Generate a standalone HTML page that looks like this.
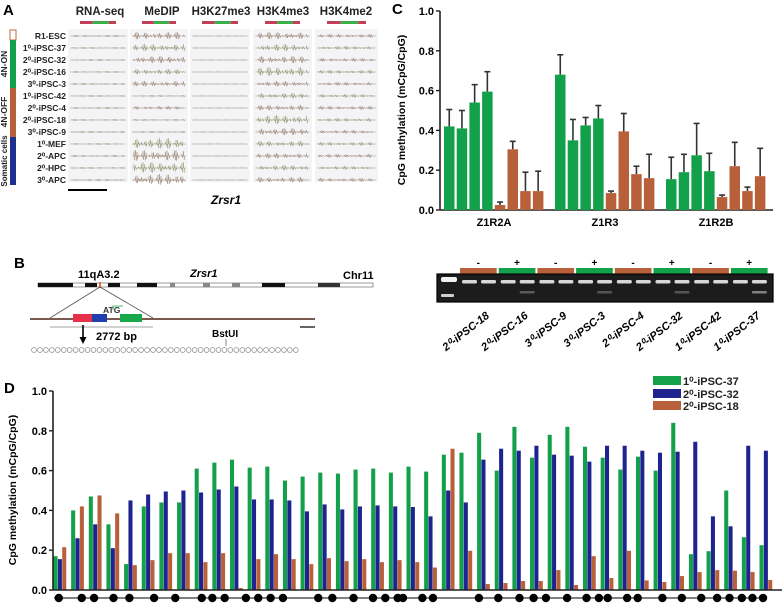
<!DOCTYPE html>
<html><head><meta charset="utf-8"><style>
html,body{margin:0;padding:0;background:#fff;}
svg{display:block;font-family:"Liberation Sans",Arial,sans-serif;}
</style></head><body>
<svg id="fig" width="784" height="604" viewBox="0 0 784 604" xmlns="http://www.w3.org/2000/svg">
<!-- Panel A -->
<g id="panelA">
<text x="3" y="15" font-size="15" font-weight="bold">A</text>
<g font-size="11.5" font-weight="bold" text-anchor="middle" fill="#222">
<text x="100" y="15">RNA-seq</text>
<text x="162" y="15">MeDIP</text>
<text x="221" y="15">H3K27me3</text>
<text x="283" y="15">H3K4me3</text>
<text x="346" y="15">H3K4me2</text>
</g>
<g id="trackArea"></g>
<rect x="10" y="30" width="6" height="10" fill="#fff" stroke="#c8643c" stroke-width="1"/>
<rect x="10" y="40" width="6" height="48" fill="#12a04a"/>
<rect x="10" y="88" width="6" height="49" fill="#b8603a"/>
<rect x="10" y="137" width="6" height="48" fill="#1f2f8e"/>
<g font-size="8.5" font-weight="bold" fill="#222" text-anchor="middle">
<text transform="translate(7,64) rotate(-90)">4N-ON</text>
<text transform="translate(7,112) rotate(-90)">4N-OFF</text>
<text transform="translate(7,161) rotate(-90)" font-size="8">Somatic cells</text>
</g>
<line x1="68" y1="190" x2="107" y2="190" stroke="#000" stroke-width="2"/>
<text x="226" y="204" font-size="12" font-weight="bold" font-style="italic" text-anchor="middle">Zrsr1</text>
</g>

<!-- Panel B -->
<g id="panelB">
<text x="14" y="268" font-size="15" font-weight="bold">B</text>
<text x="78" y="278" font-size="11" font-weight="bold">11qA3.2</text>
<text x="190" y="277" font-size="11" font-weight="bold" font-style="italic">Zrsr1</text>
<text x="343" y="279" font-size="11" font-weight="bold">Chr11</text>
<g>
<rect x="38" y="283" width="335" height="4" fill="#fff" stroke="#555" stroke-width="0.6"/>
<rect x="38" y="283" width="35" height="4" fill="#111"/>
<rect x="85" y="283" width="12" height="4" fill="#111"/>
<rect x="108" y="283" width="12" height="4" fill="#111"/>
<rect x="137" y="283" width="20" height="4" fill="#111"/>
<rect x="170" y="283" width="5" height="4" fill="#888"/>
<rect x="203" y="283" width="7" height="4" fill="#888"/>
<rect x="232" y="283" width="8" height="4" fill="#888"/>
<rect x="262" y="283" width="23" height="4" fill="#111"/>
<rect x="318" y="283" width="22" height="4" fill="#333"/>
<rect x="99" y="282" width="2" height="6" fill="#e07030"/>
</g>
<line x1="100" y1="287" x2="50" y2="318" stroke="#555" stroke-width="0.8"/>
<line x1="100" y1="287" x2="153" y2="318" stroke="#555" stroke-width="0.8"/>
<line x1="30" y1="319" x2="315" y2="319" stroke="#7a5a50" stroke-width="2"/>
<rect x="73" y="314" width="19" height="8" fill="#e8304a"/>
<rect x="92" y="314" width="15" height="8" fill="#1f3fb0"/>
<rect x="120" y="314" width="22" height="8" fill="#16a84a"/>
<text x="103" y="313" font-size="8.5" font-weight="bold" fill="#333">ATG</text>
<path d="M113 310 V306 H123" stroke="#16a84a" fill="none" stroke-width="0.8"/>
<line x1="50" y1="327" x2="153" y2="327" stroke="#888" stroke-width="0.8"/>
<line x1="83" y1="325" x2="83" y2="340" stroke="#000" stroke-width="1.6"/>
<path d="M79.5 337 L83 344 L86.5 337 Z" fill="#000"/>
<text x="96" y="340" font-size="11" font-weight="bold">2772 bp</text>
<text x="212" y="337" font-size="10" font-weight="bold">BstUI</text>
<line x1="226" y1="339" x2="226" y2="346" stroke="#333" stroke-width="0.6"/>
<line x1="300" y1="327" x2="315" y2="327" stroke="#333" stroke-width="1.5"/>
<g id="cpgRow"></g>
</g>

<!-- Panel C -->
<g id="panelC">
<text x="392" y="14" font-size="15" font-weight="bold">C</text>
<text transform="translate(405,110) rotate(-90)" font-size="10.5" font-weight="bold" text-anchor="middle">CpG methylation (mCpG/CpG)</text>
<g id="cChart"></g>
</g>

<!-- Gel -->
<g id="gel"></g>

<!-- Panel D -->
<g id="panelD">
<text x="4" y="393" font-size="15" font-weight="bold">D</text>
<text transform="translate(16,490) rotate(-90)" font-size="10.5" font-weight="bold" text-anchor="middle">CpG methylation (mCpG/CpG)</text>
<g id="dChart"></g>
<g font-size="11" font-weight="bold" fill="#222">
<rect x="653" y="376" width="28" height="9" fill="#12a04a"/>
<text x="683" y="385">1⁰-iPSC-37</text>
<rect x="653" y="389" width="28" height="9" fill="#1f2390"/>
<text x="683" y="398">2⁰-iPSC-32</text>
<rect x="653" y="401" width="28" height="9" fill="#b8603a"/>
<text x="683" y="410">2⁰-iPSC-18</text>
</g>
</g>
</svg>
<script>
// ---------- Panel C data ----------
const cGroups = ["Z1R2A","Z1R3","Z1R2B"];
const cTicks = [0,0.2,0.4,0.6,0.8,1.0];
const cTickLabels = ["0.0","0.2","0.4","0.6","0.8","1.0"];
const cGreen = [[0.42,0.41,0.54,0.595],[0.68,0.35,0.425,0.46],[0.155,0.19,0.275,0.195]];
const cGreenErr = [[0.085,0.09,0.09,0.1],[0.1,0.105,0.04,0.065],[0.11,0.09,0.16,0.09]];
const cOrange = [[0.025,0.305,0.095,0.095],[0.085,0.395,0.18,0.16],[0.065,0.22,0.095,0.17]];
const cOrangeErr = [[0.015,0.04,0.095,0.1],[0.01,0.09,0.04,0.12],[0.01,0.12,0.02,0.14]];

// ---------- Panel D data ----------
const dTicks = [0,0.2,0.4,0.6,0.8,1.0];
const dTickLabels = ["0.0","0.2","0.4","0.6","0.8","1.0"];
const dGreen = [0.17,0.40,0.47,0.33,0.13,0.42,0.44,0.44,0.61,0.64,0.655,0.615,0.62,0.55,0.57,0.59,0.585,0.605,0.61,0.59,0.62,0.595,0.68,0.69,0.79,0.60,0.82,0.665,0.78,0.82,0.72,0.665,0.605,0.67,0.60,0.84,0.18,0.195,0.50,0.265,0.225];
const dBlue = [0.155,0.26,0.33,0.21,0.45,0.48,0.495,0.50,0.49,0.505,0.52,0.455,0.455,0.45,0.395,0.43,0.405,0.42,0.425,0.42,0.417,0.37,0.50,0.44,0.655,0.71,0.70,0.725,0.68,0.675,0.645,0.725,0.725,0.70,0.69,0.695,0.745,0.37,0.32,0.725,0.70];
const dOrange = [0.215,0.42,0.475,0.385,0.125,0.15,0.185,0.185,0.14,0.185,0.01,0.155,0.18,0.155,0.13,0.16,0.145,0.155,0.14,0.15,0.14,0.113,0.71,0.197,0.03,0.035,0.045,0.045,0.10,0.025,0.17,0.06,0.197,0.048,0.04,0.07,0.09,0.10,0.097,0.09,0.05];
const dDotSites = [0.3,1.6,2.3,3.4,4.3,5.7,6.9,8.4,9.0,9.7,10.9,11.6,12.3,13.0,15.0,15.8,17.0,18.1,18.8,19.5,19.8,20.9,21.5,24.1,25.2,26.4,27.2,27.9,29.1,30.2,30.9,31.4,32.5,33.1,34.5,35.6,36.7,37.6,38.3,39.0,39.6,40.2];
const gelLanes = ["2⁰-iPSC-18","2⁰-iPSC-16","3⁰-iPSC-9","3⁰-iPSC-3","2⁰-iPSC-4","2⁰-iPSC-32","1⁰-iPSC-42","1⁰-iPSC-37"];
const gelSigns = ["-","+","-","+","-","+","-","+"];
const gelCutBand = [0,0.5,0,0.45,0,0.45,0,0.8];

const NS="http://www.w3.org/2000/svg";
function mk(tag,attrs,parent){const e=document.createElementNS(NS,tag);for(const k in attrs)e.setAttribute(k,attrs[k]);parent.appendChild(e);return e;}

// ---------- Panel C ----------
(function(){
const g=document.getElementById('cChart');
const x0=440,x1=773,y0=210,y1=11;
const yS=v=>y0-(y0-y1)*v;
mk('line',{x1:x0,y1:y1,x2:x0,y2:y0,stroke:'#222','stroke-width':1.6},g);
mk('line',{x1:x0,y1:y0,x2:x1,y2:y0,stroke:'#222','stroke-width':1.6},g);
cTicks.forEach((t,i)=>{
 const tk=mk('line',{x1:x0-4,y1:yS(t),x2:x0,y2:yS(t),stroke:'#222','stroke-width':1.4},g);
 
 
 const tl=mk('text',{x:x0-6,y:yS(t)+4,'font-size':11,'font-weight':'bold','text-anchor':'end'},g);
 tl.textContent=cTickLabels[i];
 
 
});
const gStart=444,gPitch=111,bPitch=12.7,bw=10.5;
cGroups.forEach((name,gi)=>{
 const vals=cGreen[gi].concat(cOrange[gi]);
 const errs=cGreenErr[gi].concat(cOrangeErr[gi]);
 vals.forEach((v,bi)=>{
  const bx=gStart+gi*gPitch+bi*bPitch;
  const col=bi<4?'#12a04a':'#b8603a';
  const cx=bx+bw/2, top=yS(v+errs[bi]);
  const el=mk('line',{x1:cx,y1:yS(v),x2:cx,y2:top,stroke:'#333','stroke-width':1.6},g);
  
  
  mk('line',{x1:cx-3,y1:top,x2:cx+3,y2:top,stroke:'#333','stroke-width':1.6},g);
  const r=mk('rect',{x:bx,y:yS(v),width:bw,height:y0-yS(v),fill:col},g);
  
  
 });
 const lb=mk('text',{x:gStart+gi*gPitch+50,y:226,'font-size':11,'font-weight':'bold','text-anchor':'middle'},g);
 lb.textContent=name;
 
 
});
})();

// ---------- Panel D ----------
(function(){
const g=document.getElementById('dChart');
const x0=53,x1=782,y0=590,y1=391;
const yS=v=>y0-(y0-y1)*v;
const gStart=53.5,pitch=17.65,bw=4.35;
const cols=['#12a04a','#1f2390','#b8603a'];
const series=[dGreen,dBlue,dOrange];
const names=['d-bar-1-ipsc-37','d-bar-2-ipsc-32','d-bar-2-ipsc-18'];
for(let i=0;i<dGreen.length;i++){
 series.forEach((s,si)=>{
  const r=mk('rect',{x:gStart+i*pitch+si*bw,y:yS(s[i]),width:bw-0.3,height:y0-yS(s[i]),fill:cols[si]},g);
  
  
 });
}
mk('line',{x1:x0,y1:y1,x2:x0,y2:y0,stroke:'#222','stroke-width':1.6},g);
mk('line',{x1:x0,y1:y0,x2:x1,y2:y0,stroke:'#222','stroke-width':1.6},g);
dTicks.forEach((t,i)=>{
 mk('line',{x1:x0-4,y1:yS(t),x2:x0,y2:yS(t),stroke:'#222','stroke-width':1.4},g);
 const tl=mk('text',{x:x0-6,y:yS(t)+4,'font-size':11,'font-weight':'bold','text-anchor':'end'},g);
 tl.textContent=dTickLabels[i];
 
 
});
mk('line',{x1:54,y1:598,x2:766,y2:598,stroke:'#000','stroke-width':1},g);
dDotSites.forEach(s=>{
 const c=mk('circle',{cx:gStart+s*pitch,cy:598,r:4.2,fill:'#000'},g);
 
 
});
})();

// ---------- Panel B CpG circles ----------
(function(){
const g=document.getElementById('cpgRow');
for(let i=0;i<45;i++){mk('circle',{cx:34+i*5.95,cy:350,r:2.4,fill:'#fff',stroke:'#888','stroke-width':0.7},g);}
})();

// ---------- Gel ----------
(function(){
const g=document.getElementById('gel');
mk('rect',{x:437,y:274,width:336,height:28,fill:'#1c1c1c',stroke:'#000','stroke-width':1.2},g);
mk('rect',{x:441,y:277,width:16,height:5,fill:'#f2f2f2',rx:2},g);
mk('rect',{x:441,y:294,width:13,height:3,fill:'#cfcfcf',rx:1},g);
gelLanes.forEach((name,i)=>{
 const sx=460+i*38.7;
 const bar=mk('rect',{x:sx,y:268,width:36.7,height:5.5,fill:gelSigns[i]=='+'?'#12a04a':'#b8603a'},g);
 
 
 const sg=mk('text',{x:sx+18.3,y:266,'font-size':10,'font-weight':'bold','text-anchor':'middle'},g);
 sg.textContent=gelSigns[i];
 for(let k=0;k<2;k++){
  mk('rect',{x:sx+2+k*19,y:280,width:15,height:3.5,fill:'#d8d8d8',rx:1.5},g);
 }
 if(gelCutBand[i]>0){mk('rect',{x:sx+21,y:291,width:15,height:2.5,fill:'#9a9a9a','fill-opacity':gelCutBand[i],rx:1},g);}
 const t=mk('text',{transform:'translate('+(sx+30)+',317) rotate(-38)','font-size':11,'font-weight':'bold','font-style':'italic','text-anchor':'end'},g);
 t.textContent=name;
 
 
});
})();

// ---------- Panel A tracks (decorative) ----------
(function(){
const g=document.getElementById('trackArea');
const rows=["R1-ESC","1⁰-iPSC-37","2⁰-iPSC-32","2⁰-iPSC-16","3⁰-iPSC-3","1⁰-iPSC-42","2⁰-iPSC-4","2⁰-iPSC-18","3⁰-iPSC-9","1⁰-MEF","2⁰-APC","2⁰-HPC","3⁰-APC"];
const colsX=[[68,128],[130,188],[190,250],[253,312],[315,378]];
const amp=[[1,1,1,1,1,1,1,1,1,1,1,1,1],[4,4,4,3,3,1,2,1,1,6,6,6,6],[0.5,0.5,0.5,0.5,0.5,0.5,0.5,0.5,0.5,0.5,0.5,0.5,0.5],[4,4,4,5,3,3,3,5,4,3,3,3,3],[2,2,2,2,2,2,2,2,2,2,2,2,2]];
colsX.forEach((c,ci)=>{
 mk('rect',{x:c[0],y:29,width:c[1]-c[0],height:153,fill:'#f4f4f6'},g);
 const hx=c[0]+12,hw=c[1]-c[0]-24;
 mk('rect',{x:hx,y:21,width:hw*0.35,height:3,fill:'#c0405a'},g);
 mk('rect',{x:hx+hw*0.35,y:21,width:hw*0.45,height:3,fill:'#3cb048'},g);
 mk('rect',{x:hx+hw*0.8,y:21,width:hw*0.2,height:3,fill:'#c0405a'},g);
 rows.forEach((r,ri)=>{
  const y=36+ri*12;
  mk('line',{x1:c[0]+2,y1:y,x2:c[1]-2,y2:y,stroke:'#999','stroke-width':0.5},g);
  let d='';
  for(let x=c[0]+4;x<c[1]-4;x+=1.5){
   const h=amp[ci][ri]*Math.abs(Math.sin(x*1.7+ri*3.1+ci)*Math.sin(x*0.31+ri));
   d+='M'+x.toFixed(1)+' '+y+'V'+(y-h).toFixed(1);
   d+='M'+(x+0.7).toFixed(1)+' '+y+'V'+(y+h*0.8).toFixed(1);
  }
  mk('path',{d:d,stroke:ri%2?'#7a8a50':'#8a6a50','stroke-width':0.6,fill:'none'},g);
 });
});
rows.forEach((r,ri)=>{
 const t=mk('text',{x:66,y:39+ri*12,'font-size':8.5,'font-weight':'bold','text-anchor':'end',fill:'#222'},g);
 t.textContent=r;
 
 
});
})();
</script>
</body></html>
